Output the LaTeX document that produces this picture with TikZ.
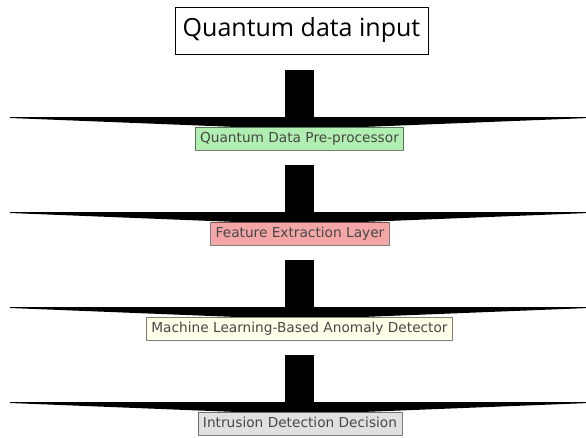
\documentclass[tikz,border=0pt]{standalone}
\usepackage{fontspec}
\setmainfont{DejaVu Sans}
\newfontfamily\titlefont{Open Sans}
\definecolor{gfill}{HTML}{B1EEB1}
\definecolor{rfill}{HTML}{F4A6A6}
\definecolor{yfill}{HTML}{FFFFE9}
\definecolor{kfill}{HTML}{E0E0E0}
\begin{document}
\begin{tikzpicture}[x=1pt,y=-1pt,
  lbl/.style={draw=black, draw opacity=0.5, line width=0.8pt, text=black!72,
    font=\fontsize{13.7}{16}\selectfont, inner xsep=5pt, inner ysep=0pt,
    minimum height=23pt, text height=10pt, text depth=3pt, anchor=north},
  titlebox/.style={draw=black, line width=1pt, minimum width=253pt, minimum height=47pt,
    inner sep=0pt, font=\titlefont\fontsize{25}{29}\selectfont},
  flowarrow/.style={fill=black}]
\useasboundingbox (0,0) rectangle (586,437);
\node[titlebox] (title) at (301.5,30.5) {Quantum data input};
\foreach \s in {70,165,260,355}{
  \fill[flowarrow] (285,\s) rectangle (314,\s+47.5);
  \fill[flowarrow] (10,\s+47) -- (589,\s+47) -- (589,\s+48)
     -- (299.5,\s+59.5) -- (10,\s+48) -- cycle;
}
\node[lbl, fill=gfill] (pre) at (299.5,127) {Quantum Data Pre-processor};
\node[lbl, fill=rfill] (feat) at (300,222) {Feature Extraction Layer};
\node[lbl, fill=yfill] (ml) at (299.5,317) {Machine Learning-Based Anomaly Detector};
\node[lbl, fill=kfill] (dec) at (300,412) {Intrusion Detection Decision};
\end{tikzpicture}
\end{document}
